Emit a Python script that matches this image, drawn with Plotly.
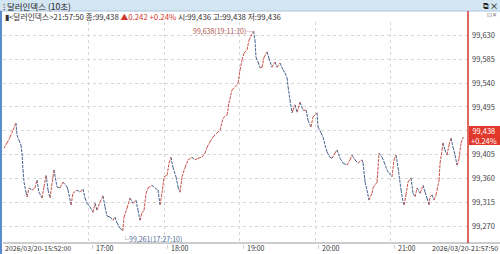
import pandas as pd
import plotly.graph_objects as go

# ---- data ----
session_start = "2026-03-20 15:52:00"
minutes_after_start = [
    0.8, 3.2, 5.6, 7.9, 10.3, 11.1, 12.7, 14.3, 15.1, 15.9, 16.7, 18.3, 19.1, 20.7, 23.1, 25.4, 27.0, 28.6,
    31.0, 32.6, 34.2, 35.8, 37.4, 39.7, 40.5, 42.9, 45.3, 47.7, 50.9, 51.7, 54.1, 55.6, 58.8, 61.2, 63.6,
    65.2, 66.8, 69.2, 71.5, 73.1, 74.7, 77.1, 79.5, 81.1, 82.7, 85.1, 87.4, 89.0, 90.6, 93.0, 95.17, 96.2,
    98.6, 101.0, 103.3, 105.7, 107.3, 108.9, 110.5, 112.1, 113.7, 115.3, 118.4, 120.8, 123.2, 124.8, 126.4,
    128.0, 130.4, 132.0, 133.5, 135.1, 137.5, 139.1, 140.7, 142.3, 144.7, 147.1, 150.2, 152.6, 155.0, 158.2,
    160.6, 162.2, 164.5, 166.9, 170.1, 172.5, 174.9, 178.1, 179.6, 182.0, 184.4, 186.8, 188.4, 190.0, 191.6,
    194.0, 195.5, 199.17, 200.3, 201.1, 202.7, 204.3, 205.9, 207.5, 209.9, 211.4, 213.8, 216.2, 217.8, 220.2,
    222.6, 224.2, 225.8, 226.6, 228.1, 229.7, 230.5, 232.1, 233.7, 236.1, 238.5, 240.9, 242.4, 244.8, 246.4,
    249.6, 250.4, 252.8, 254.4, 256.0, 257.6, 259.9, 261.5, 263.9, 265.5, 267.9, 270.3, 273.4, 275.8, 277.4,
    279.8, 282.2, 285.4, 286.2, 287.8, 289.3, 290.9, 293.3, 294.1, 297.3, 298.9, 301.3, 302.9, 305.2, 306.8,
    309.2, 310.8, 312.4, 314.0, 316.4, 318.0, 318.8, 320.3, 321.9, 324.3, 325.9, 327.5, 329.1, 331.5, 333.9,
    335.5, 337.0, 338.6, 339.4, 341.0, 342.6, 344.2, 345.0, 346.6, 347.4, 349.0, 349.7, 351.3, 352.9, 354.5,
    356.1, 357.7, 359.3, 360.9, 362.5, 364.1, 365.83,
]
index_values = [
    99.417, 99.427, 99.438, 99.451, 99.465, 99.442, 99.432, 99.423, 99.408, 99.376, 99.353, 99.334, 99.325,
    99.342, 99.338, 99.342, 99.357, 99.334, 99.323, 99.344, 99.366, 99.338, 99.323, 99.363, 99.376, 99.344,
    99.342, 99.353, 99.344, 99.338, 99.310, 99.332, 99.338, 99.334, 99.340, 99.323, 99.313, 99.306, 99.296,
    99.313, 99.300, 99.315, 99.327, 99.306, 99.289, 99.287, 99.281, 99.287, 99.276, 99.266, 99.261, 99.287,
    99.304, 99.323, 99.313, 99.319, 99.300, 99.281, 99.295, 99.300, 99.332, 99.342, 99.347, 99.342, 99.338,
    99.310, 99.332, 99.363, 99.366, 99.389, 99.400, 99.381, 99.363, 99.344, 99.334, 99.363, 99.381, 99.395,
    99.400, 99.395, 99.398, 99.400, 99.408, 99.419, 99.429, 99.438, 99.446, 99.451, 99.474, 99.480, 99.502,
    99.527, 99.533, 99.540, 99.565, 99.584, 99.597, 99.603, 99.621, 99.638, 99.621, 99.589, 99.580, 99.569,
    99.570, 99.589, 99.599, 99.587, 99.570, 99.580, 99.570, 99.578, 99.565, 99.559, 99.550, 99.533, 99.508,
    99.484, 99.489, 99.499, 99.485, 99.504, 99.489, 99.489, 99.470, 99.457, 99.476, 99.484, 99.457, 99.446,
    99.438, 99.423, 99.410, 99.400, 99.398, 99.408, 99.414, 99.398, 99.389, 99.385, 99.395, 99.404, 99.395,
    99.389, 99.395, 99.389, 99.353, 99.338, 99.319, 99.332, 99.342, 99.353, 99.408, 99.400, 99.391, 99.376,
    99.370, 99.363, 99.395, 99.404, 99.380, 99.338, 99.315, 99.310, 99.329, 99.353, 99.361, 99.332, 99.325,
    99.342, 99.332, 99.347, 99.334, 99.323, 99.310, 99.325, 99.329, 99.319, 99.329, 99.338, 99.357, 99.389,
    99.414, 99.427, 99.414, 99.404, 99.423, 99.436, 99.419, 99.404, 99.385, 99.398, 99.427, 99.438,
]
y_ticks = [99.270, 99.315, 99.360, 99.405, 99.450, 99.495, 99.540, 99.585, 99.630]
hour_ticks = ["17:00", "18:00", "19:00", "20:00", "21:00"]
high_label = "99,638(19:11:10)"
low_label = "99,261(17:27:10)"
last_price_text = "99,438"
last_change_pct = "+0.24%"

# ---- geometry ----
W, H = 500, 254
L, R, T, B = 3, 32, 22, 11
PW, PH = W - L - R, H - T - B

def px(x):
    return (x - L) / PW

def py(y):
    return (H - B - y) / PH

base = pd.Timestamp(session_start)
times = [base + pd.Timedelta(minutes=m) for m in minutes_after_start]
x_end = base + pd.Timedelta(minutes=369.6)
day = base.strftime("%Y-%m-%d")

up_x, up_y, dn_x, dn_y = [], [], [], []
for i in range(1, len(times)):
    if index_values[i] >= index_values[i - 1]:
        up_x += [times[i - 1], times[i], None]
        up_y += [index_values[i - 1], index_values[i], None]
    else:
        dn_x += [times[i - 1], times[i], None]
        dn_y += [index_values[i - 1], index_values[i], None]

RED = "#cc5048"
BLUE = "#45618e"
FONT = "Noto Sans CJK KR"

fig = go.Figure()
fig.add_trace(go.Scatter(x=dn_x, y=dn_y, mode="lines",
                         line=dict(color=BLUE, width=1, dash="3px,1px"), hoverinfo="skip"))
fig.add_trace(go.Scatter(x=up_x, y=up_y, mode="lines",
                         line=dict(color=RED, width=1, dash="3px,1px"), hoverinfo="skip"))

shapes = [
    dict(type="rect", xref="paper", yref="paper", x0=px(0), x1=px(W), y0=py(11), y1=py(0),
         fillcolor="#d5e6f3", line=dict(width=0), layer="below"),
    dict(type="line", xref="paper", yref="paper", x0=px(0), x1=px(W), y0=py(11), y1=py(11),
         line=dict(color="#a8c6de", width=1)),
    dict(type="rect", xref="paper", yref="paper", x0=px(0), x1=px(2), y0=py(H), y1=py(11),
         fillcolor="#5a8ccc", line=dict(width=0)),
    dict(type="line", xref="paper", yref="paper", x0=px(3), x1=px(W), y0=py(243), y1=py(243),
         line=dict(color="#9a9a9a", width=1)),
    dict(type="line", xref="paper", yref="paper", x0=px(468), x1=px(468), y0=py(243), y1=py(11),
         line=dict(color="#d0362b", width=1.5)),
    dict(type="rect", xref="paper", yref="paper", x0=px(469), x1=px(500), y0=py(145), y1=py(126),
         fillcolor="#e2382c", line=dict(width=0)),
]

annotations = [
    dict(text="⁝ 달러인덱스 (10초)", xref="paper", yref="paper", x=px(1), y=py(5.5), xanchor="left",
         yanchor="middle", showarrow=False, font=dict(family=FONT, size=8.5, color="#222")),
    dict(text="⧉ ✕", xref="paper", yref="paper", x=px(499), y=py(5.5), xanchor="right",
         yanchor="middle", showarrow=False, font=dict(family=FONT, size=8, color="#222")),
    dict(text="▮&lt;달러인덱스&gt;21:57:50 종:99,438 <span style='color:#d0362b'>▲0.242 +0.24%</span> 시:99,436 고:99,438 저:99,436",
         xref="paper", yref="paper", x=px(3), y=py(16.5), xanchor="left", yanchor="middle", showarrow=False,
         font=dict(family=FONT, size=7.8, color="#333")),
    dict(text="⊡✕", xref="paper", yref="paper", x=px(499), y=py(15), xanchor="right",
         yanchor="middle", showarrow=False, font=dict(family=FONT, size=6, color="#777")),
    dict(text=last_price_text + "<br>" + last_change_pct,
         xref="paper", yref="paper", x=px(484.5), y=py(135.5), xanchor="center", yanchor="middle",
         showarrow=False, font=dict(family=FONT, size=7.5, color="white")),
    dict(text=high_label + "─", x=base + pd.Timedelta(minutes=199.17), y=99.638, xref="x", yref="y",
         xanchor="right", yanchor="middle", xshift=1, showarrow=False,
         font=dict(family=FONT, size=7, color="#b0504a")),
    dict(text="└" + low_label, x=base + pd.Timedelta(minutes=95.17), y=99.261, xref="x", yref="y",
         xanchor="left", yanchor="top", xshift=-3, yshift=-1, showarrow=False,
         font=dict(family=FONT, size=7, color="#4f6d98")),
    dict(text=day.replace("-", "/") + "-15:52:00", xref="paper", yref="paper", x=px(3), y=py(248.5),
         xanchor="left", yanchor="middle", showarrow=False, font=dict(family=FONT, size=7, color="#333")),
    dict(text=day.replace("-", "/") + "-21:57:50", xref="paper", yref="paper", x=px(500), y=py(248.5),
         xanchor="right", yanchor="middle", showarrow=False, font=dict(family=FONT, size=7, color="#333")),
]
for hstr in hour_ticks:
    t = pd.Timestamp(f"{day} {hstr}")
    annotations.append(dict(text="╵" + hstr, x=t, xref="x", yref="paper", y=py(248.5), xanchor="left",
                            yanchor="middle", xshift=-2, showarrow=False,
                            font=dict(family=FONT, size=7, color="#333")))

fig.update_layout(
    width=W, height=H, margin=dict(l=L, r=R, t=T, b=B, pad=0),
    paper_bgcolor="white", plot_bgcolor="white", showlegend=False,
    shapes=shapes, annotations=annotations,
    xaxis=dict(range=[base, x_end], type="date",
               tickvals=[pd.Timestamp(f"{day} {h}") for h in hour_ticks],
               showticklabels=False, showgrid=True, gridcolor="#d6d6d6", griddash="dot", gridwidth=1,
               zeroline=False, showline=False, ticks=""),
    yaxis=dict(range=[99.238, 99.6555], side="right", tickvals=y_ticks,
               ticktext=[f"{v:.3f}".replace(".", ",") for v in y_ticks],
               tickfont=dict(family=FONT, size=7.5, color="#444"), ticklabelstandoff=3,
               showgrid=True, gridcolor="#d6d6d6", griddash="dot", gridwidth=1,
               zeroline=False, showline=False, ticks=""),
)
fig.write_html("out.html")
